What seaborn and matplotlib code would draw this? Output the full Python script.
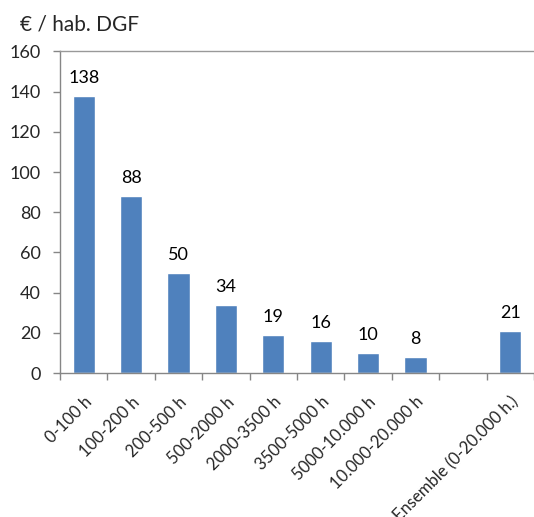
import matplotlib
matplotlib.use("Agg")
import matplotlib.pyplot as plt
import seaborn as sns
import numpy as np
import pandas as pd
from matplotlib.ticker import FixedLocator

# Cost per inhabitant (DGF) by commune population band
categories = ["0-100 h", "100-200 h", "200-500 h", "500-2000 h", "2000-3500 h",
              "3500-5000 h", "5000-10.000 h", "10.000-20.000 h", "",
              "Ensemble (0-20.000 h.)"]
values = [138, 88, 50, 34, 19, 16, 10, 8, np.nan, 21]
y_ticks = [0, 20, 40, 60, 80, 100, 120, 140, 160]
y_title = "€ / hab. DGF"

sns.set_theme(style="white")
plt.rcParams["font.family"] = ["Lato", "DejaVu Sans"]

df = pd.DataFrame({"cat": categories, "val": values}).dropna()

fig = plt.figure(figsize=(5.34, 5.17), dpi=100)
ax = fig.add_axes([0.1124, 0.2785, 0.8876, 0.6219])

sns.barplot(data=df, x="cat", y="val", order=categories, color="#4F81BD",
            saturation=1, width=0.47, ax=ax)

for c in ax.containers:
    ax.bar_label(c, labels=[f"{v:g}" for v in c.datavalues], padding=7,
                 fontsize=13, color="black")

ax.set_xlim(-0.5, len(categories) - 0.5)
ax.set_ylim(0, 160)
ax.yaxis.set_major_locator(FixedLocator(y_ticks))
ax.set_xlabel("")
ax.set_ylabel("")

grey = "#868686"
ax.spines["right"].set_visible(False)
for side in ["left", "bottom", "top"]:
    ax.spines[side].set_color(grey)
    ax.spines[side].set_linewidth(1.0)
ax.spines["top"].set_color("#999999")

# category boundary ticks on the x axis, labels at centres
ax.set_xticks(range(len(categories)))
ax.set_xticklabels(categories, rotation=45, ha="right", va="top",
                   rotation_mode="anchor", fontsize=12)
ax.xaxis.set_minor_locator(FixedLocator(np.arange(-0.5, len(categories), 1.0)))
ax.tick_params(axis="x", which="major", length=0, pad=15)
ax.tick_params(axis="x", which="minor", length=5, color=grey, width=1,
               direction="out", bottom=True)
ax.tick_params(axis="y", which="major", length=5, color=grey, width=1,
               direction="out", left=True, labelsize=13, pad=9)

fig.text(0.037, 0.952, y_title, fontsize=15, ha="left", va="center")

fig.savefig("out.png", dpi=100, facecolor="white")
